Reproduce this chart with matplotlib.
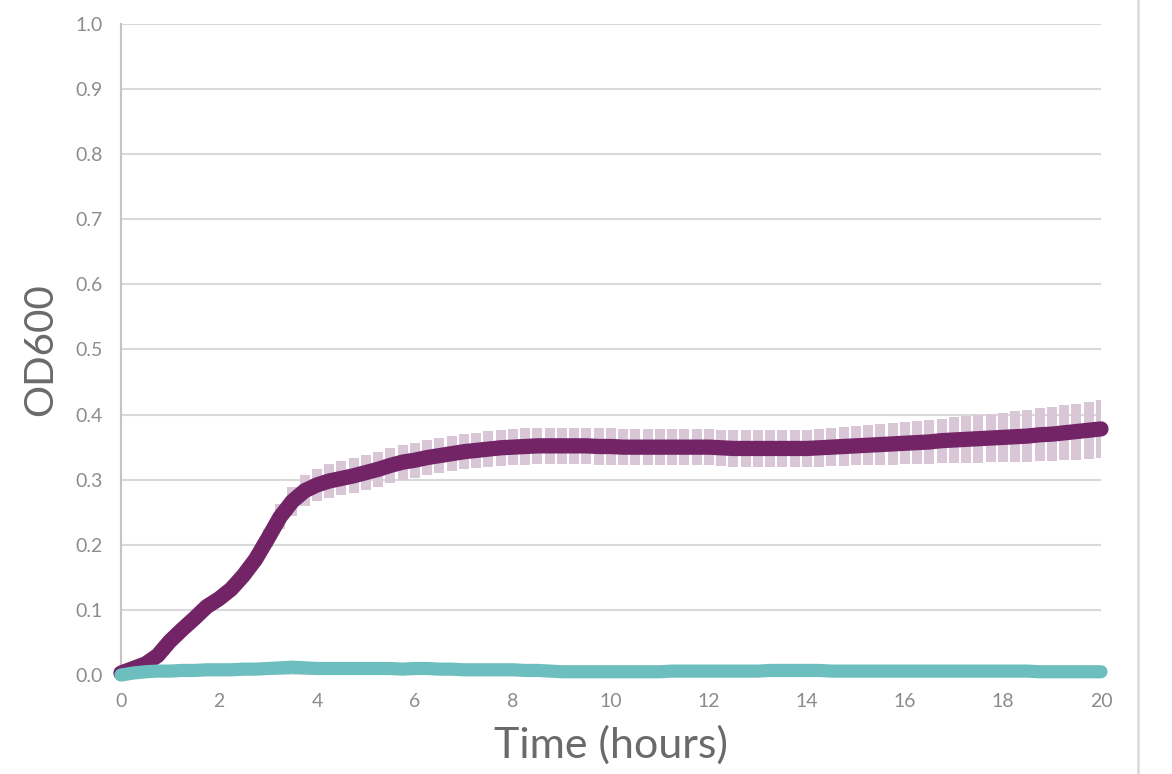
import matplotlib
matplotlib.use("Agg")
import matplotlib.pyplot as plt
from matplotlib.lines import Line2D
import numpy as np

# ---- data ----
time_h = [i * 0.25 for i in range(81)]

od_strain = [
    0.003, 0.010, 0.017, 0.030, 0.052, 0.070, 0.087, 0.105, 0.117, 0.132,
    0.153, 0.178, 0.210, 0.243, 0.267, 0.283, 0.292, 0.298, 0.302, 0.306,
    0.311, 0.316, 0.322, 0.327, 0.330, 0.334, 0.337, 0.340, 0.343, 0.345,
    0.347, 0.349, 0.350, 0.351, 0.352, 0.352, 0.352, 0.352, 0.352, 0.351,
    0.351, 0.350, 0.350, 0.350, 0.350, 0.350, 0.350, 0.350, 0.350, 0.349,
    0.348, 0.348, 0.348, 0.348, 0.348, 0.348, 0.348, 0.349, 0.350, 0.351,
    0.352, 0.353, 0.354, 0.355, 0.356, 0.357, 0.358, 0.360, 0.361, 0.362,
    0.363, 0.364, 0.365, 0.366, 0.367, 0.369, 0.370, 0.372, 0.374, 0.376,
    0.378,
]

err_strain = [
    0.003, 0.004, 0.004, 0.005, 0.005, 0.006, 0.006, 0.007, 0.007, 0.008,
    0.009, 0.011, 0.014, 0.019, 0.022, 0.024, 0.025, 0.026, 0.026, 0.027,
    0.027, 0.027, 0.027, 0.027, 0.027, 0.027, 0.027, 0.027, 0.027, 0.027,
    0.028, 0.028, 0.028, 0.028, 0.028, 0.028, 0.028, 0.028, 0.028, 0.028,
    0.028, 0.028, 0.028, 0.028, 0.028, 0.028, 0.028, 0.028, 0.028, 0.028,
    0.028, 0.028, 0.028, 0.028, 0.028, 0.028, 0.028, 0.029, 0.029, 0.030,
    0.030, 0.031, 0.031, 0.032, 0.032, 0.033, 0.034, 0.034, 0.035, 0.036,
    0.037, 0.037, 0.038, 0.039, 0.040, 0.041, 0.041, 0.042, 0.043, 0.044,
    0.045,
]

od_blank = [
    0.000, 0.003, 0.005, 0.006, 0.006, 0.007, 0.007, 0.008, 0.008, 0.008,
    0.009, 0.009, 0.010, 0.011, 0.012, 0.011, 0.010, 0.010, 0.010, 0.010,
    0.010, 0.010, 0.010, 0.009, 0.010, 0.010, 0.009, 0.009, 0.008, 0.008,
    0.008, 0.008, 0.008, 0.007, 0.007, 0.006, 0.005, 0.005, 0.005, 0.005,
    0.005, 0.005, 0.005, 0.005, 0.005, 0.006, 0.006, 0.006, 0.006, 0.006,
    0.006, 0.006, 0.006, 0.007, 0.007, 0.007, 0.007, 0.007, 0.006, 0.006,
    0.006, 0.006, 0.006, 0.006, 0.006, 0.006, 0.006, 0.006, 0.006, 0.006,
    0.006, 0.006, 0.006, 0.006, 0.006, 0.005, 0.005, 0.005, 0.005, 0.005,
    0.005,
]

x_ticks = [0, 2, 4, 6, 8, 10, 12, 14, 16, 18, 20]
y_ticks = [0.0, 0.1, 0.2, 0.3, 0.4, 0.5, 0.6, 0.7, 0.8, 0.9, 1.0]

# ---- style ----
purple = "#722466"
bar_col = "#d9c7d8"
teal = "#6cbfbe"
grid_col = "#d9d9d9"
text_col = "#8c8c8c"
font = ["Lato", "DejaVu Sans"]

fig = plt.figure(figsize=(11.72, 7.74), dpi=100)
ax = fig.add_axes([0.1032, 0.1279, 0.8362, 0.8411])

t = np.array(time_h)
y = np.array(od_strain)
e = np.array(err_strain)

ax.vlines(t, y - e, y + e, colors=bar_col, linewidth=7.2, zorder=2)
ax.plot(t, y, color=purple, linewidth=11, solid_capstyle="round",
        solid_joinstyle="round", zorder=3, clip_on=False)
ax.plot(t, od_blank, color=teal, linewidth=9.5, solid_capstyle="round",
        solid_joinstyle="round", zorder=4, clip_on=False)

ax.set_xlim(0, 20)
ax.set_ylim(0, 1.0)
ax.set_xticks(x_ticks)
ax.set_yticks(y_ticks)
ax.set_xticklabels([str(v) for v in x_ticks])
ax.set_yticklabels([f"{v:.1f}" for v in y_ticks])

ax.grid(axis="y", color=grid_col, linewidth=1.5, zorder=0)
ax.set_axisbelow(True)
for s in ["top", "right", "bottom"]:
    ax.spines[s].set_visible(False)
ax.spines["left"].set_color("#c4c4c4")
ax.spines["left"].set_linewidth(1.5)
ax.tick_params(length=0, pad=13, labelcolor=text_col, labelsize=14)
for lab in ax.get_xticklabels() + ax.get_yticklabels():
    lab.set_family(font)
    lab.set_fontweight("normal")

ax.set_xlabel("Time (hours)", fontsize=31, color="#6a6a6a", family=font,
              fontweight="normal", labelpad=11)
ax.set_ylabel("OD600", fontsize=29, color="#6a6a6a", family=font,
              fontweight="normal", labelpad=12)

fig.add_artist(Line2D([1138 / 1172, 1138 / 1172], [0, 1],
                      transform=fig.transFigure, color="#d9d9d9", linewidth=1.8))

fig.savefig("out.png", dpi=100, facecolor="white")
